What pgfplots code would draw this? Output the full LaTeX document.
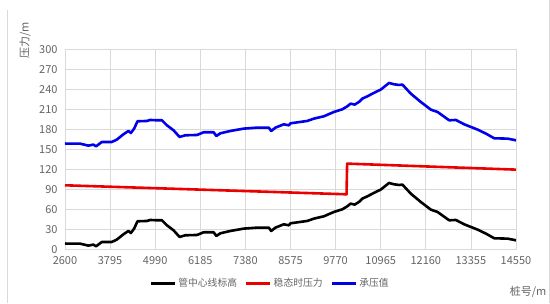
\documentclass[border=0pt]{standalone}
\usepackage{fontspec}
\setmainfont{Noto Sans CJK SC}
\usepackage{pgfplots}
\pgfplotsset{compat=1.18}
\usepackage{pgfplotstable}
\definecolor{tickgray}{RGB}{100,100,100}
\definecolor{gridgray}{RGB}{217,217,217}
\definecolor{myblue}{RGB}{0,0,235}
\definecolor{myred}{RGB}{235,0,0}

\pgfplotstableread{
x y
2600 9
2627 8.5
2998 8.5
3219 5.5
3352 7
3423 4.5
3575 11
3840 11
3973 14.5
4148 22.5
4281 27.5
4345 24.5
4432 31
4520 42
4770 42.5
4857 44
5035 43.5
5168 43.5
5301 36
5476 28.5
5635 18.5
5787 21
6097 21.5
6273 25.5
6538 25.5
6610 20
6716 24
6982 27.5
7335 31
7691 32.5
8000 32.5
8063 27.5
8177 32.5
8397 37.5
8530 36
8575 39
9018 42.5
9194 46
9459 49.5
9725 56
9948 60
10081 64.5
10168 68.5
10275 67
10389 71
10479 76
10612 79.5
10833 86
10965 89.5
11186 99.5
11318 97.5
11451 96.5
11541 97
11762 83.5
12027 71
12293 59.5
12471 56
12779 43.5
12957 44
13177 37.5
13533 29.5
13753 23.5
13974 16.5
14330 16
14550 13.5
}\blackdata

\pgfplotstableread{
x y
2600 159
2627 158.5
2998 158.5
3219 155.5
3352 157
3423 154.5
3575 161
3840 161
3973 164.5
4148 172.5
4281 177.5
4345 174.5
4432 181
4520 192
4770 192.5
4857 194
5035 193.5
5168 193.5
5301 186
5476 178.5
5635 168.5
5787 171
6097 171.5
6273 175.5
6538 175.5
6610 170
6716 174
6982 177.5
7335 181
7691 182.5
8000 182.5
8063 177.5
8177 182.5
8397 187.5
8530 186
8575 189
9018 192.5
9194 196
9459 199.5
9725 206
9948 210
10081 214.5
10168 218.5
10275 217
10389 221
10479 226
10612 229.5
10833 236
10965 239.5
11186 249.5
11318 247.5
11451 246.5
11541 247
11762 233.5
12027 221
12293 209.5
12471 206
12779 193.5
12957 194
13177 187.5
13533 179.5
13753 173.5
13974 166.5
14330 166
14550 163.5
}\bluedata

\pgfplotstableread{
x y
2600 96
10060 82.5
10075 128.5
14550 119.5
}\reddata

\begin{document}
\begin{tikzpicture}
\begin{axis}[
  name=ax,
  scale only axis,
  width=451pt, height=200pt,
  xmin=2600, xmax=14550,
  ymin=0, ymax=300,
  xtick={2600,3795,4990,6185,7380,8575,9770,10965,12160,13355,14550},
  ytick={0,30,...,300},
  scaled x ticks=false,
  scaled y ticks=false,
  /pgf/number format/assume math mode=true,
  /pgf/number format/1000 sep={},
  /pgf/number format/fixed,
  /pgf/number format/precision=0,
  xticklabel style={font=\fontsize{11}{12}\selectfont, text=tickgray},
  yticklabel style={font=\fontsize{11}{12}\selectfont, text=tickgray},
  major tick length=0pt,
  xtick pos=bottom, ytick pos=left,
  grid=major,
  major grid style={draw=gridgray, line width=0.8pt},
  axis line style={draw=gridgray, line width=0.8pt},
  x tick label style={yshift=-4pt},
  y tick label style={xshift=-4pt},
  ylabel={压力/m},
  ylabel style={at={(axis description cs:-0.0887,1.045)}, anchor=center, font=\fontsize{11}{12}\selectfont, text=tickgray},
  xlabel={桩号/m},
  xlabel style={at={(axis description cs:1.027,-0.2135)}, anchor=center, font=\fontsize{11}{12}\selectfont, text=tickgray},
  legend columns=3,
  legend style={at={(axis description cs:0.455,-0.17)}, anchor=center, draw=none, fill=none,
    font=\fontsize{9.8}{11}\selectfont, text=tickgray,
    /tikz/every even column/.append style={column sep=6pt}},
  legend image code/.code={\draw[#1, line width=2.6pt] (0pt,0pt) -- (24pt,0pt);},
]
\addplot[black, line width=2.6pt, line join=round] table[x=x,y=y] {\blackdata};
\addlegendentry{管中心线标高}
\addplot[myred, line width=2.6pt, line join=round] table[x=x,y=y] {\reddata};
\addlegendentry{稳态时压力}
\addplot[myblue, line width=2.6pt, line join=round] table[x=x,y=y] {\bluedata};
\addlegendentry{承压值}
\end{axis}
\pgfresetboundingbox
\path ([xshift=-65pt,yshift=-54pt]ax.south west) rectangle ([xshift=34pt,yshift=49pt]ax.north east);
\draw[gridgray, line width=0.6pt] ([xshift=-58pt,yshift=39pt]ax.north west) -- ([xshift=-58pt,yshift=-54pt]ax.south west);
\draw[gridgray, line width=0.6pt] ([xshift=33pt,yshift=49pt]ax.north east) -- ([xshift=33pt,yshift=-54pt]ax.south east);
\end{tikzpicture}
\end{document}
